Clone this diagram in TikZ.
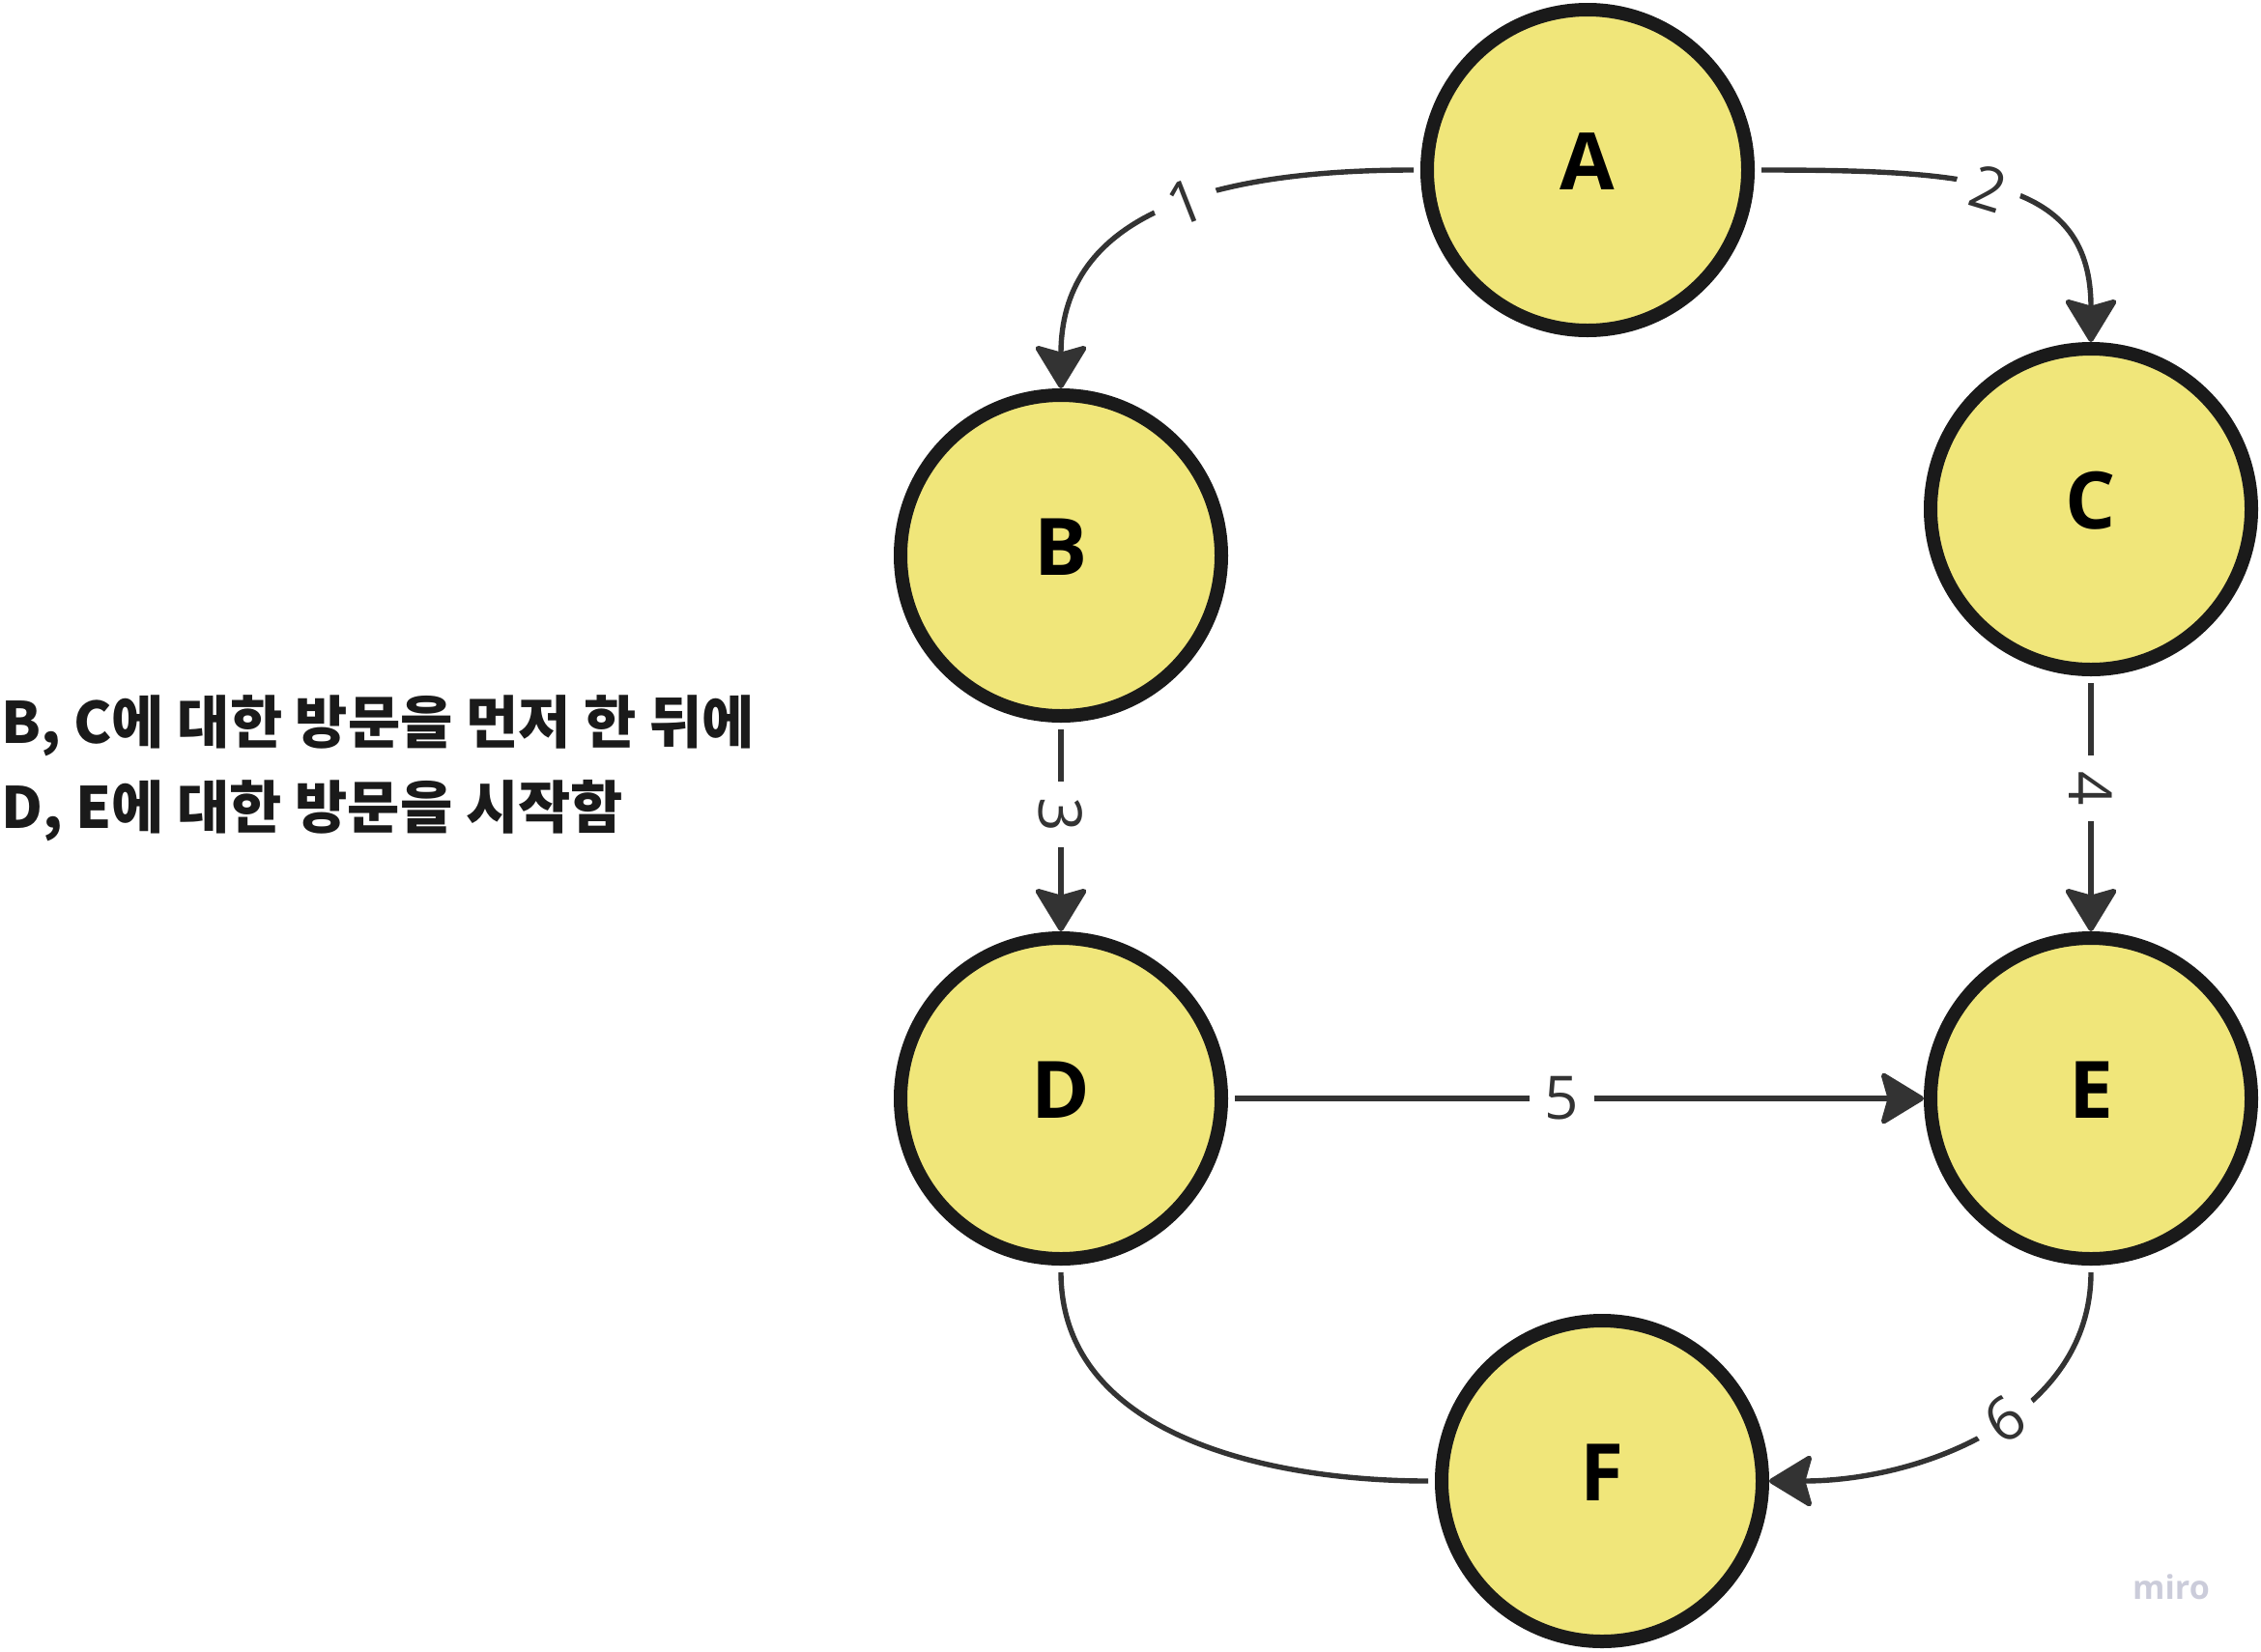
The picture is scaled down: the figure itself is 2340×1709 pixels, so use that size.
\documentclass[tikz,border=0pt]{standalone}
\usepackage{fontspec}
\setmainfont{Open Sans}
\newfontfamily\krfont{Noto Sans CJK KR}
\usetikzlibrary{arrows.meta}
\definecolor{nodefill}{HTML}{F0E67A}
\definecolor{nodeline}{HTML}{1A1A1A}
\definecolor{edgeline}{HTML}{333333}
\definecolor{mirogray}{HTML}{CBCCDA}

\newcommand{\stepfont}{\fontsize{41}{41}\selectfont\bfseries}
\newcommand{\numfont}{\fontsize{31}{31}\selectfont}
\newcommand{\notefont}{\krfont\bfseries\fontsize{29.5}{29.5}\selectfont}

\begin{document}
\begin{tikzpicture}[ x = 0.5pt, y = -0.5pt,
                     vertex/.style={circle,draw=nodeline,fill=nodefill,line width=7pt,
                                    minimum size=166pt,inner sep=0pt,font=\stepfont,
                                    text height=20pt,text depth=0pt},
                     edge/.style={draw=edgeline,line width=2.7pt,shorten <=3.5pt},
                     tip/.style={-{Stealth[length=24pt,width=29pt,inset=4pt,round]}},
                     elab/.style={fill=white,text=edgeline,inner sep=8pt,font=\numfont},
                   ]
 \useasboundingbox (0,0) rectangle (2340,1709);

 % the six vertices
 \node[vertex] (A) at (1643,176)  {A};
 \node[vertex] (B) at (1098,575)  {B};
 \node[vertex] (C) at (2164,527)  {C};
 \node[vertex] (D) at (1098,1137) {D};
 \node[vertex] (E) at (2164,1137) {E};
 \node[vertex] (F) at (1658,1533) {F};

 % visiting order
 \draw[edge,tip] (A.west) to[out=180,in=90,out looseness=1.4,in looseness=1.0]
    node[elab,sloped,pos=0.42] {1} (B.north);
 \draw[edge,tip] (A.east) to[out=0,in=90,out looseness=1.5,in looseness=1.1]
    node[elab,sloped,pos=0.45] {2} (C.north);
 \draw[edge,tip] (B.south) --
    node[elab,sloped,pos=0.44] {3} (D.north);
 \draw[edge,tip] (C.south) --
    node[elab,sloped,pos=0.44] {4} (E.north);
 \draw[edge,tip] (D.east) --
    node[elab,sloped,pos=0.48] {5} (E.west);
 \draw[edge,tip] (E.south) to[out=-90,in=0]
    node[elab,sloped,pos=0.45] {6} (F.east);
 \draw[edge,shorten >=3.5pt] (D.south) to[out=-90,in=180] (F.west);

 % note on the left
 \node[anchor=base west,inner sep=0pt,text=nodeline,font=\notefont] (note1) at (1,769)
      {B, C에 대한 방문을 먼저 한 뒤에};
 \node[anchor=base west,inner sep=0pt,text=nodeline,font=\notefont] (note2) at (1,857)
      {D, E에 대한 방문을 시작함};

 \node[text=mirogray,font=\fontsize{17}{17}\selectfont\bfseries] (logo) at (2247,1643) {miro};
\end{tikzpicture}
\end{document}
